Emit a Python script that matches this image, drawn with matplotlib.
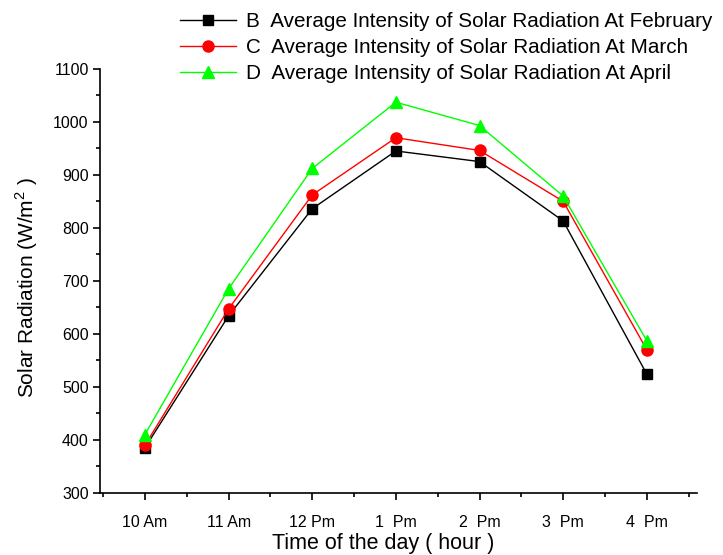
import numpy as np
import matplotlib
matplotlib.use("Agg")
import matplotlib.pyplot as plt

plt.rcParams['font.family'] = ['Liberation Sans', 'DejaVu Sans']
plt.rcParams['mathtext.fontset'] = 'custom'
plt.rcParams['mathtext.rm'] = 'Liberation Sans'

# data
hours = ['10 Am', '11 Am', '12 Pm', '1  Pm', '2  Pm', '3  Pm', '4  Pm']
feb = [385, 634, 836, 945, 925, 813, 524]
mar = [390, 647, 862, 970, 946, 850, 570]
apr = [410, 685, 912, 1037, 993, 860, 587]

x = np.arange(1, len(hours) + 1)

fig = plt.figure(figsize=(7.23, 5.55), dpi=100)
ax = fig.add_axes([0.138, 0.112, 0.826, 0.764])

ax.plot(x, feb, color='black', lw=1, marker='s', ms=7,
        label='B  Average Intensity of Solar Radiation At February')
ax.plot(x, mar, color='red', lw=1, marker='o', ms=8,
        label='C  Average Intensity of Solar Radiation At March')
ax.plot(x, apr, color='#00ff00', lw=1, marker='^', ms=8,
        label='D  Average Intensity of Solar Radiation At April')

ax.set_xlim(0.46, 7.6)
ax.set_ylim(300, 1100)
ax.set_xticks(x)
ax.set_xticklabels(hours)
ax.set_xticks(np.arange(0.5, 7.6, 1), minor=True)
ax.set_yticks(np.arange(300, 1101, 100))
ax.set_yticks(np.arange(350, 1100, 100), minor=True)

ax.spines['top'].set_visible(False)
ax.spines['right'].set_visible(False)
for s in ['left', 'bottom']:
    ax.spines[s].set_linewidth(1.2)
ax.tick_params(which='major', length=5, width=1.2, labelsize=11.5)
ax.tick_params(axis='x', which='major', pad=11)
ax.tick_params(axis='y', which='major', pad=3)
ax.tick_params(which='minor', length=3, width=1.2)

ax.set_xlabel('Time of the day ( hour )', fontsize=15.5)
ax.set_ylabel('Solar Radiation (W/m$^{2}$ )', fontsize=15)
ax.xaxis.set_label_coords(0.474, -0.094)
ax.yaxis.set_label_coords(-0.1, 0.483)

fig.legend(loc='upper left', bbox_to_anchor=(0.237, 0.993), frameon=False,
           fontsize=14.9, handlelength=2.7, handletextpad=0.5, labelspacing=0.33,
           borderaxespad=0)

fig.savefig('out.png', dpi=100)
